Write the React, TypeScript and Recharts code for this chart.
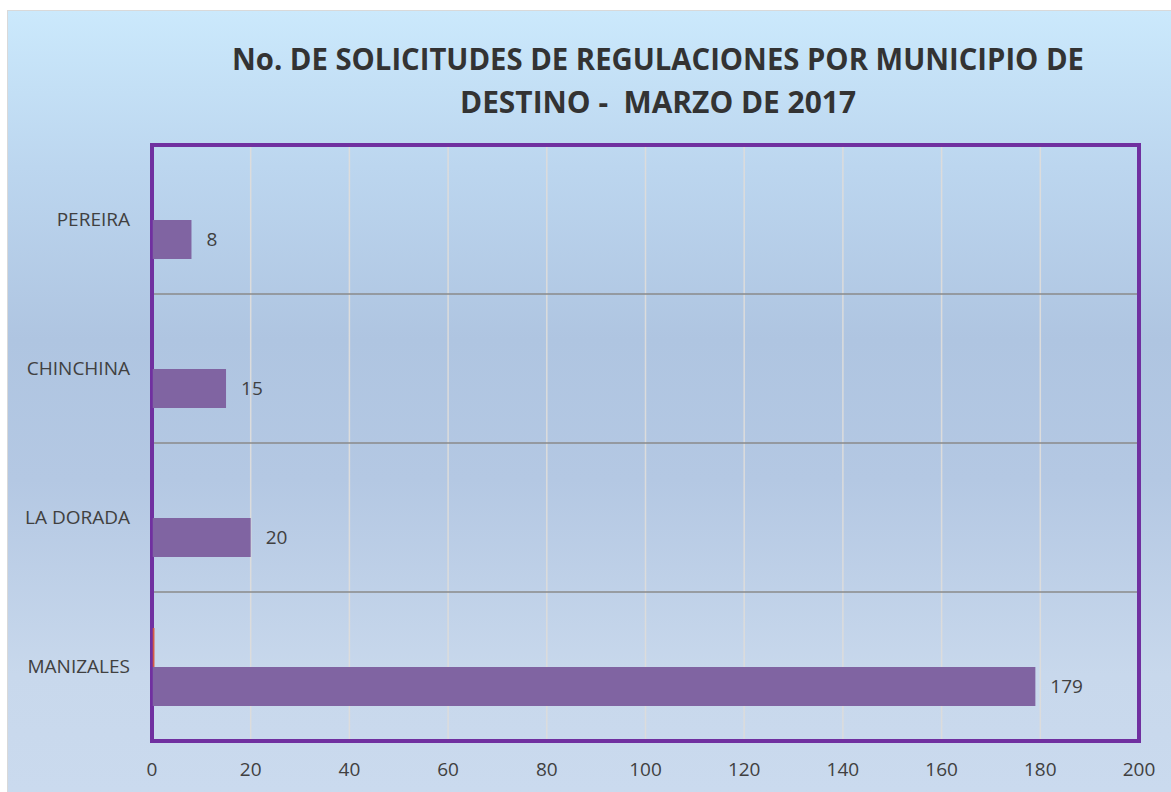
import React from 'react';
import { BarChart, Bar, XAxis, YAxis, CartesianGrid, LabelList, ReferenceArea } from 'recharts';

const categories = ['PEREIRA', 'CHINCHINA', 'LA DORADA', 'MANIZALES'];
const solicitudes = [8, 15, 20, 179];
const serie2 = [null, null, null, 0.5];
const xTicks = [0, 20, 40, 60, 80, 100, 120, 140, 160, 180, 200];
const titleLine1 = 'No. DE SOLICITUDES DE REGULACIONES POR MUNICIPIO DE';
const titleLine2 = 'DESTINO -  MARZO DE 2017';

const data = categories.map((name, i) => ({
  name,
  solicitudes: solicitudes[i],
  serie2: serie2[i],
}));

const FONT = '"Open Sans", sans-serif';

export default function App() {
  return (
    <div>
      <style>{'html,body{margin:0;padding:0;overflow:hidden}'}</style>
      <div
        style={{
          position: 'relative',
          marginLeft: 7,
          marginTop: 10,
          width: 1164,
          height: 782,
          boxSizing: 'border-box',
          borderLeft: '1px solid #d9d9d9',
          borderTop: '1px solid #d9d9d9',
          background:
            'linear-gradient(180deg, #cbe9fc 0%, #bcd6ef 20%, #afc5e1 42%, #b4c8e3 60%, #c8d8ec 85%, #cadaee 100%)',
        }}
      >
        <BarChart
          width={1163}
          height={781}
          data={data}
          layout="vertical"
          margin={{ top: 134, right: 32, bottom: 11, left: 0 }}
          barGap={0}
        >
          <CartesianGrid horizontal={false} stroke="#dcdcdc" strokeWidth={1.5} />
          <CartesianGrid
            vertical={false}
            stroke="#8a8a8a"
            strokeWidth={1.5}
            horizontalCoordinatesGenerator={({ offset }: any) =>
              [1, 2, 3].map((i) => offset.top + (i * offset.height) / categories.length)
            }
          />
          <XAxis
            type="number"
            domain={[0, 200]}
            ticks={xTicks}
            axisLine={false}
            tickLine={false}
            tickMargin={16}
            height={40}
            tick={{ fill: '#404040', fontSize: 19, fontFamily: FONT }}
          />
          <YAxis
            type="category"
            dataKey="name"
            width={144}
            axisLine={{ stroke: '#7030a0', strokeWidth: 1.5 }}
            tickLine={false}
            tickMargin={16}
            tick={{ fill: '#404040', fontSize: 19, fontFamily: FONT }}
          />
          <ReferenceArea x1={0} x2={200} fill="none" stroke="#7030a0" strokeWidth={4} ifOverflow="visible" />
          <Bar dataKey="serie2" fill="#d35a45" barSize={39} isAnimationActive={false} />
          <Bar dataKey="solicitudes" fill="#8064a2" barSize={39} isAnimationActive={false}>
            <LabelList
              dataKey="solicitudes"
              position="right"
              offset={15}
              fill="#404040"
              fontSize={19}
              fontFamily={FONT}
            />
          </Bar>
        </BarChart>
        <svg
          width={1163}
          height={140}
          style={{ position: 'absolute', left: 0, top: 0, pointerEvents: 'none' }}
        >
          <text
            x={650}
            y={59}
            textAnchor="middle"
            fontFamily={FONT}
            fontWeight={700}
            fontSize={30}
            fill="#333333"
            textLength={852}
            lengthAdjust="spacingAndGlyphs"
            style={{ whiteSpace: 'pre' }}
          >
            {titleLine1}
          </text>
          <text
            x={650}
            y={102}
            textAnchor="middle"
            fontFamily={FONT}
            fontWeight={700}
            fontSize={30}
            fill="#333333"
            textLength={396}
            lengthAdjust="spacingAndGlyphs"
            style={{ whiteSpace: 'pre' }}
          >
            {titleLine2}
          </text>
        </svg>
      </div>
    </div>
  );
}
